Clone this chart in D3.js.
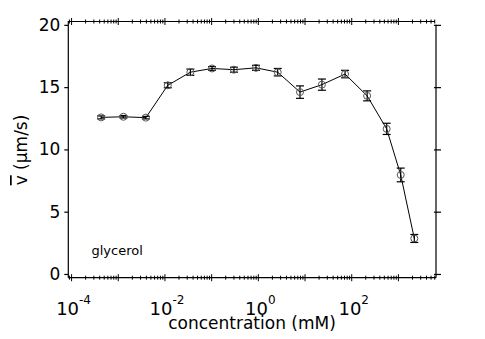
<!DOCTYPE html>
<html>
<head>
<meta charset="utf-8">
<script src="https://cdn.jsdelivr.net/npm/d3@7"></script>
<style>
  body { margin: 0; background: #fff; }
  text { font-family: "DejaVu Sans", Verdana, sans-serif; fill: #000; }
</style>
</head>
<body>
<div id="chart"></div>
<script>
// glycerol: mean velocity vs concentration
var conc = [0.00043, 0.00129, 0.0039, 0.0115, 0.035, 0.102, 0.30, 0.89, 2.6, 7.8, 23, 72, 214, 560, 1120, 2190];
var vel  = [12.57, 12.62, 12.55, 15.15, 16.2, 16.5, 16.4, 16.55, 16.2, 14.6, 15.2, 16.05, 14.3, 11.65, 7.95, 2.85];
var err  = [0.12, 0.1, 0.1, 0.2, 0.25, 0.15, 0.2, 0.2, 0.3, 0.5, 0.45, 0.3, 0.4, 0.45, 0.55, 0.32];
var yTicks = [0, 5, 10, 15, 20];
var xLabelExp = [-4, -2, 0, 2];

var width = 485, height = 339;
var plot = { left: 68.3, right: 436, top: 21.5, bottom: 277.7 };

var svg = d3.select("#chart").append("svg")
    .attr("width", width)
    .attr("height", height);

var x = d3.scaleLog()
    .domain([Math.pow(10, -4.07), Math.pow(10, 3.805)])
    .range([plot.left, plot.right]);

var y = d3.scaleLinear()
    .domain([-0.3, 20.27])
    .range([plot.bottom, plot.top]);

// log ticks: majors at every decade, minors at 2..9
var majors = [], minors = [];
for (var e = -5; e <= 4; e++) {
    for (var m = 1; m <= 9; m++) {
        var v = m * Math.pow(10, e);
        if (v < x.domain()[0] || v > x.domain()[1]) continue;
        if (m === 1) majors.push(v); else minors.push(v);
    }
}

// frame lines
svg.append("line").attr("x1", plot.left).attr("x2", plot.left)
    .attr("y1", plot.top - 0.5).attr("y2", plot.bottom)
    .style("stroke", "#000").style("stroke-width", 1.2);
svg.append("line").attr("x1", plot.left).attr("x2", plot.right)
    .attr("y1", plot.bottom).attr("y2", plot.bottom)
    .style("stroke", "#000").style("stroke-width", 1.2);
svg.append("line").attr("x1", plot.left).attr("x2", plot.right - 1)
    .attr("y1", plot.top).attr("y2", plot.top)
    .style("stroke", "#000").style("stroke-width", 1.2);
svg.append("line").attr("x1", plot.right).attr("x2", plot.right)
    .attr("y1", y(20)).attr("y2", plot.bottom)
    .style("stroke", "#000").style("stroke-width", 1.2);

// x ticks, crossing top and bottom lines
[plot.top, plot.bottom].forEach(function(yy){
    var g = svg.append("g");
    g.selectAll("line.minor").data(minors).enter().append("line")
        .attr("x1", function(d){ return x(d); })
        .attr("x2", function(d){ return x(d); })
        .attr("y1", yy - 2).attr("y2", yy + 2)
        .style("stroke", "#000").style("stroke-width", 1);
    g.selectAll("line.major").data(majors).enter().append("line")
        .attr("x1", function(d){ return x(d); })
        .attr("x2", function(d){ return x(d); })
        .attr("y1", yy - 3.5).attr("y2", yy + 3.5)
        .style("stroke", "#000").style("stroke-width", 1);
});

// x tick labels 10^n
var xl = svg.append("g").selectAll("text").data(xLabelExp).enter().append("text")
    .attr("x", function(d){ return x(Math.pow(10, d)) + 2; })
    .attr("y", 315)
    .attr("text-anchor", "middle")
    .style("font-size", "18px");
xl.append("tspan").text("10");
xl.append("tspan").attr("dy", -11).style("font-size", "12px")
    .text(function(d){ return d < 0 ? "-" + Math.abs(d) : d; });

// y axes
svg.append("g")
    .attr("transform", "translate(" + plot.left + ",0)")
    .call(d3.axisLeft(y).tickValues(yTicks).tickSize(4).tickPadding(4))
    .call(function(g){ g.select(".domain").remove(); })
    .call(function(g){
        g.selectAll("line").style("stroke", "#000").style("stroke-width", 1.2);
        g.selectAll("text").style("font-size", "17px")
            .style("font-family", "'DejaVu Sans', Verdana, sans-serif");
    });

svg.append("g")
    .attr("transform", "translate(" + plot.right + ",0)")
    .call(d3.axisRight(y).tickValues(yTicks).tickSize(5).tickFormat(""))
    .call(function(g){ g.select(".domain").remove(); })
    .call(function(g){
        g.selectAll("line").attr("x1", -2).style("stroke", "#000").style("stroke-width", 1.2);
    });

// axis titles
svg.append("text")
    .attr("x", 252).attr("y", 329)
    .attr("text-anchor", "middle")
    .style("font-size", "17px")
    .text("concentration (mM)");

var yt = svg.append("text")
    .attr("transform", "translate(27,150) rotate(-90)")
    .attr("text-anchor", "middle")
    .style("font-size", "17px");
yt.append("tspan").style("text-decoration", "overline").text("v");
yt.append("tspan").text(" (µm/s)");

svg.append("text")
    .attr("x", 91.5).attr("y", 255)
    .style("font-size", "13px")
    .text("glycerol");

// data
var pts = conc.map(function(c, i){ return { c: c, v: vel[i], e: err[i] }; });

var line = d3.line()
    .x(function(d){ return x(d.c); })
    .y(function(d){ return y(d.v); });

svg.append("path")
    .datum(pts)
    .attr("d", line)
    .style("fill", "none")
    .style("stroke", "#000")
    .style("stroke-width", 1);

var eb = svg.append("g").selectAll("g").data(pts).enter().append("g");
eb.append("line")
    .attr("x1", function(d){ return x(d.c); })
    .attr("x2", function(d){ return x(d.c); })
    .attr("y1", function(d){ return y(d.v - d.e); })
    .attr("y2", function(d){ return y(d.v + d.e); })
    .style("stroke", "#000").style("stroke-width", 1.2);
[-1, 1].forEach(function(s){
    eb.append("line")
        .attr("x1", function(d){ return x(d.c) - 4; })
        .attr("x2", function(d){ return x(d.c) + 4; })
        .attr("y1", function(d){ return y(d.v + s * d.e); })
        .attr("y2", function(d){ return y(d.v + s * d.e); })
        .style("stroke", "#000").style("stroke-width", 1.2);
});

svg.append("g").selectAll("circle").data(pts).enter().append("circle")
    .attr("cx", function(d){ return x(d.c); })
    .attr("cy", function(d){ return y(d.v); })
    .attr("r", 3.5)
    .style("fill", "none")
    .style("stroke", "#555")
    .style("stroke-width", 1);
</script>
</body>
</html>
